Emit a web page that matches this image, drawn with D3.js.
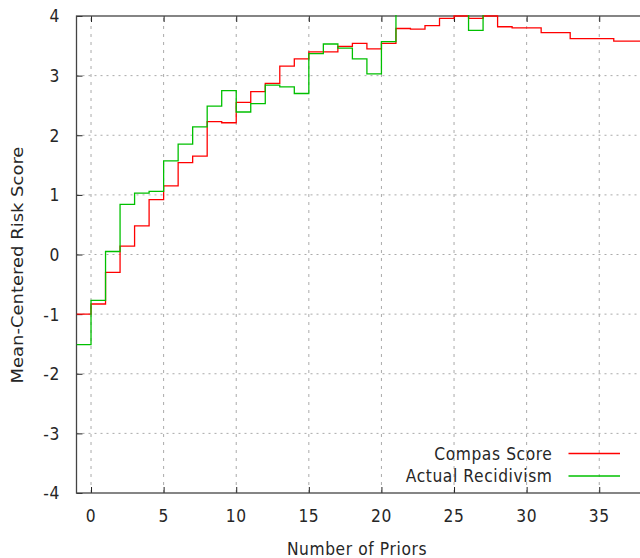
<!DOCTYPE html>
<html>
<head>
<meta charset="utf-8">
<script src="https://cdn.jsdelivr.net/npm/d3@7"></script>
<style>
  body { margin: 0; background: #fff; }
  text { font-family: "DejaVu Sans", sans-serif; font-size: 15.5px; fill: #262626; letter-spacing: 0.6px; }
  text.ytitle { letter-spacing: 0; }
</style>
</head>
<body>
<div id="chart"></div>
<script>
// step start positions (number of priors) and mean-centered scores
const compasX = [-1, 0, 1, 2, 3, 4, 5, 6, 7, 8, 9, 10, 11, 12, 13, 14, 15, 16, 17, 18, 19, 20,
                 21, 22, 23, 24, 25, 26, 27, 28, 29, 31, 33, 36];
const compasY = [-1.00, -0.83, -0.30, 0.14, 0.48, 0.92, 1.15, 1.54, 1.65, 2.23, 2.21, 2.55, 2.73, 2.87,
                 3.16, 3.28, 3.40, 3.40, 3.49, 3.54, 3.45, 3.54,
                 3.79, 3.78, 3.84, 3.96, 4.00, 3.96, 4.00, 3.82, 3.80, 3.72, 3.62, 3.58];

const recidX = [-1, 0, 1, 2, 3, 4, 5, 6, 7, 8, 9, 10, 11, 12, 13, 14, 15, 16, 17, 18, 19, 20,
                21, 22, 23, 24, 25, 26, 27, 28, 29, 31, 33, 36];
const recidY = [-1.51, -0.77, 0.05, 0.84, 1.03, 1.06, 1.57, 1.85, 2.14, 2.49, 2.75, 2.39, 2.53, 2.84,
                2.81, 2.70, 3.37, 3.53, 3.46, 3.28, 3.03, 3.57,
                4.25, 4.30, 4.20, 4.35, 4.25, 3.76, 4.30, 4.40, 4.30, 4.50, 4.40, 4.30];

const xEnd = 38;
const xTicks = [0, 5, 10, 15, 20, 25, 30, 35];
const yTicks = [-4, -3, -2, -1, 0, 1, 2, 3, 4];

const legendNames = ["Compas Score", "Actual Recidivism"];
const colors = ["#ff0000", "#00c000"];

const WIDTH = 640, HEIGHT = 558;
const SY = 1.16; // text is a bit taller than wide in the original

const x = d3.scaleLinear().domain([-1, xEnd]).range([76.5, 642.8]);
const y = d3.scaleLinear().domain([-4, 4]).range([493, 16]);

const svg = d3.select("#chart").append("svg")
    .attr("width", WIDTH)
    .attr("height", HEIGHT);

// grid
svg.append("g").selectAll("line")
    .data(xTicks)
    .enter().append("line")
    .attr("x1", d => x(d)).attr("x2", d => x(d))
    .attr("y1", y(-4)).attr("y2", y(4))
    .attr("stroke", "#aaa")
    .attr("stroke-dasharray", "3,5");

svg.append("g").selectAll("line")
    .data(yTicks.filter(d => d > -4 && d < 4))
    .enter().append("line")
    .attr("x1", x(-1)).attr("x2", x(xEnd))
    .attr("y1", d => y(d)).attr("y2", d => y(d))
    .attr("stroke", "#aaa")
    .attr("stroke-dasharray", "2,4");

// ticks (inward, mirrored on top)
const noDomain = g => g.select(".domain").remove();
svg.append("g")
    .attr("transform", `translate(${x(-1)},0)`)
    .call(d3.axisLeft(y).tickValues(yTicks).tickSize(-6).tickFormat(""))
    .call(noDomain);
svg.append("g")
    .attr("transform", `translate(0,${y(-4)})`)
    .call(d3.axisBottom(x).tickValues(xTicks).tickSize(-6).tickFormat(""))
    .call(noDomain);
svg.append("g")
    .attr("transform", `translate(0,${y(4)})`)
    .call(d3.axisTop(x).tickValues(xTicks).tickSize(-6).tickFormat(""))
    .call(noDomain);
svg.selectAll(".tick line").attr("stroke", "#222");

// border
svg.append("rect")
    .attr("x", x(-1)).attr("y", y(4))
    .attr("width", x(xEnd) - x(-1))
    .attr("height", y(-4) - y(4))
    .attr("fill", "none")
    .attr("stroke", "#444")
    .attr("stroke-width", 1.3);

// data
svg.append("clipPath").attr("id", "plot")
  .append("rect")
    .attr("x", x(-1)).attr("y", y(4) - 1)
    .attr("width", x(xEnd) - x(-1))
    .attr("height", y(-4) - y(4) + 2);

const line = d3.line()
    .x(d => x(d[0]))
    .y(d => y(d[1]))
    .curve(d3.curveStepAfter);

const series = [
  compasX.map((v, i) => [v, compasY[i]]).concat([[xEnd, compasY[compasY.length - 1]]]),
  recidX.map((v, i) => [v, recidY[i]]).concat([[xEnd, recidY[recidY.length - 1]]])
];

svg.append("g").attr("clip-path", "url(#plot)")
  .selectAll("path")
  .data(series)
  .enter().append("path")
    .attr("d", line)
    .attr("fill", "none")
    .attr("stroke", (d, i) => colors[i])
    .attr("stroke-width", 1.3);

// text
function label(tx, ty, str, anchor, rotate) {
  const tr = rotate ? ` rotate(-90) scale(${SY},1)` : ` scale(1,${SY})`;
  return svg.append("text")
      .attr("transform", `translate(${tx},${ty})` + tr)
      .attr("text-anchor", anchor)
      .text(str);
}

yTicks.forEach(v => label(60, y(v), String(v), "end").attr("dy", "0.36em"));
xTicks.forEach(v => label(x(v), 521.5, String(v), "middle"));

label(357, 555, "Number of Priors", "middle");
label(23, 265, "Mean-Centered Risk Score", "middle", true).attr("class", "ytitle");

// legend
legendNames.forEach((name, i) => {
  const ly = 453.5 + i * 22.5;
  label(552.5, ly + 6, name, "end");
  svg.append("line")
      .attr("x1", 568.5).attr("x2", 620)
      .attr("y1", ly).attr("y2", ly)
      .attr("stroke", colors[i])
      .attr("stroke-width", 1.3);
});
</script>
</body>
</html>
